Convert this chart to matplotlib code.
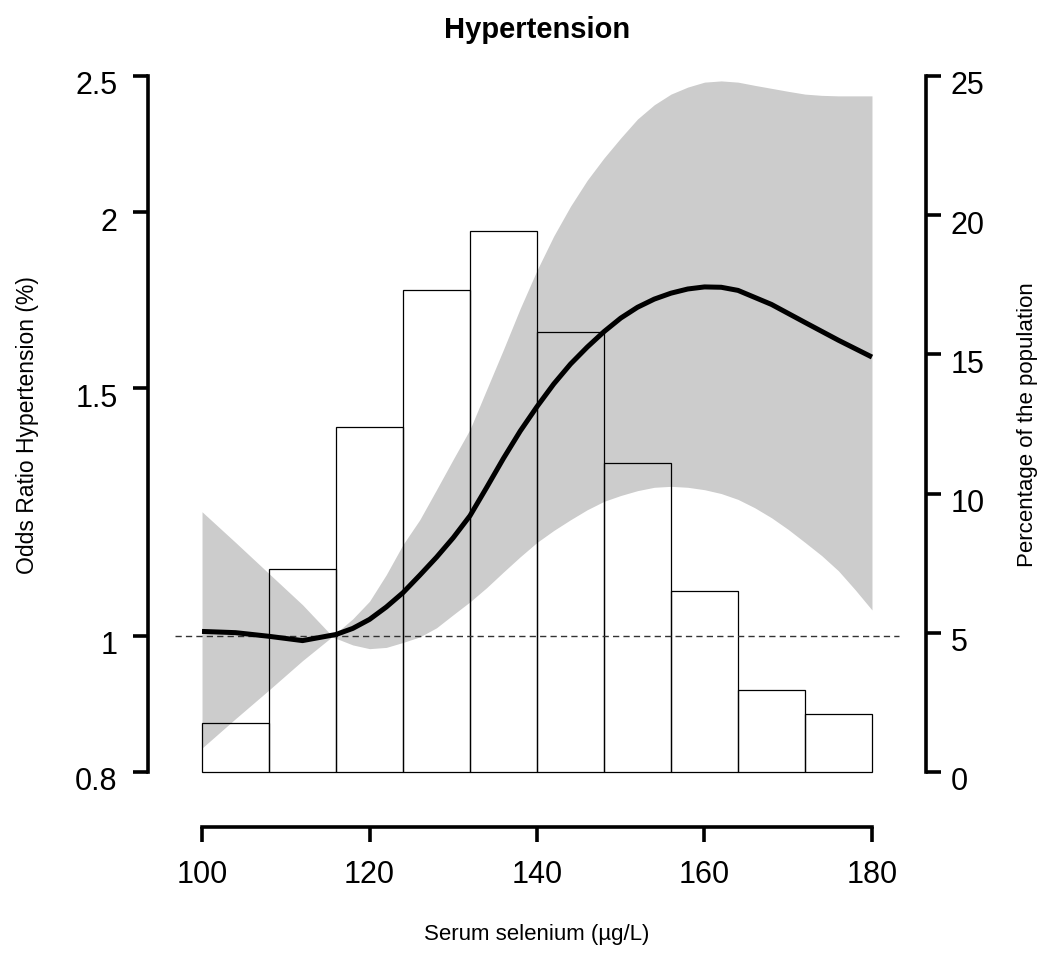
import matplotlib
matplotlib.use("Agg")
import matplotlib.pyplot as plt
from matplotlib.ticker import NullLocator, FixedLocator, FixedFormatter
from matplotlib.transforms import ScaledTranslation

plt.rcParams['font.family'] = ['Liberation Sans', 'DejaVu Sans']

# histogram of serum selenium (percentage of the population per 8 ug/L bin)
bin_left = [100, 108, 116, 124, 132, 140, 148, 156, 164, 172]
bin_width = 8
pct = [1.75, 7.3, 12.4, 17.3, 19.45, 15.8, 11.1, 6.5, 2.95, 2.1]

# fitted odds ratio
fit_x = [100, 104, 108, 112, 116, 118, 120, 122, 124, 126, 128, 130, 132, 134,
         136, 138, 140, 142, 144, 146, 148, 150, 152, 154, 156, 158, 160, 162,
         164, 168, 172, 176, 180]
or_fit = [1.007, 1.005, 0.999, 0.992, 1.002, 1.012, 1.027, 1.048, 1.073, 1.104,
          1.137, 1.174, 1.217, 1.275, 1.337, 1.398, 1.455, 1.51, 1.56, 1.604,
          1.645, 1.682, 1.712, 1.735, 1.752, 1.764, 1.77, 1.769, 1.76, 1.72,
          1.67, 1.622, 1.578]

# confidence band
band_x = [100, 104, 108, 112, 115.5, 116.5, 118, 120, 122, 124, 126, 128, 130,
          132, 134, 136, 138, 140, 142, 144, 146, 148, 150, 152, 154, 156, 158,
          160, 162, 164, 166, 168, 170, 172, 174, 176, 178, 180]
ci_hi = [1.225, 1.165, 1.107, 1.052, 1.0, 1.01, 1.028, 1.058, 1.105, 1.161,
         1.209, 1.27, 1.335, 1.402, 1.497, 1.598, 1.709, 1.819, 1.924, 2.02,
         2.108, 2.186, 2.259, 2.33, 2.385, 2.427, 2.455, 2.475, 2.48, 2.475,
         2.462, 2.45, 2.438, 2.427, 2.422, 2.42, 2.42, 2.42]
ci_lo = [0.832, 0.873, 0.915, 0.96, 0.998, 0.993, 0.985, 0.979, 0.981, 0.989,
         0.998, 1.013, 1.035, 1.057, 1.082, 1.11, 1.138, 1.165, 1.188, 1.209,
         1.229, 1.246, 1.258, 1.268, 1.275, 1.277, 1.275, 1.27, 1.262, 1.25,
         1.233, 1.213, 1.19, 1.165, 1.14, 1.112, 1.078, 1.043]

or_ticks = [0.8, 1, 1.5, 2, 2.5]
or_labels = ['0.8', '1', '1.5', '2', '2.5']
pct_ticks = [0, 5, 10, 15, 20, 25]
x_ticks = [100, 120, 140, 160, 180]

fig = plt.figure(figsize=(10.5, 9.54), dpi=100)
W, H = 1050.0, 954.0
ax = fig.add_axes([148 / W, (H - 773) / H, (926 - 148) / W, (773 - 77) / H])
axp = ax.twinx()
axc = ax.twinx()

xlim = (93.55, 186.45)
for a in (ax, axp, axc):
    a.set_xlim(*xlim)
    a.patch.set_visible(False)

# band (bottom layer)
ax.set_yscale('log')
ax.set_ylim(0.8, 2.5)
ax.fill_between(band_x, ci_lo, ci_hi, color='#cccccc', linewidth=0)

# bars
axp.set_ylim(0, 25)
axp.bar(bin_left, pct, width=bin_width, align='edge', fill=False,
        edgecolor='black', linewidth=0.9, clip_on=False)

# curve + reference line (top layer)
axc.set_yscale('log')
axc.set_ylim(0.8, 2.5)
axc.hlines(1, 96.8, 183.2, colors='#333333', linewidth=1.0,
           linestyles=(0, (4.5, 3)))
axc.plot(fit_x, or_fit, color='black', linewidth=3.6, solid_capstyle='butt')
axc.axis('off')

lw = 2.6
# left axis
for s in ('top', 'right'):
    ax.spines[s].set_visible(False)
ax.spines['left'].set_linewidth(lw)
ax.spines['left'].set_bounds(0.8, 2.5)
ax.spines['bottom'].set_linewidth(lw)
ax.spines['bottom'].set_bounds(100, 180)
ax.spines['bottom'].set_position(('outward', 39.6))
ax.yaxis.set_major_locator(FixedLocator(or_ticks))
ax.yaxis.set_major_formatter(FixedFormatter(or_labels))
ax.yaxis.set_minor_locator(NullLocator())
ax.set_xticks(x_ticks)
ax.tick_params(axis='y', which='major', direction='out', length=11, width=lw,
               labelsize=22, pad=11)
ax.tick_params(axis='x', direction='out', length=11, width=lw,
               labelsize=22, pad=12)

# right axis
for s in ('top', 'left', 'bottom'):
    axp.spines[s].set_visible(False)
axp.spines['right'].set_linewidth(lw)
axp.spines['right'].set_bounds(0, 25)
axp.set_yticks(pct_ticks)
axp.tick_params(axis='y', direction='out', length=11, width=lw,
                labelsize=22, pad=7)
axp.tick_params(axis='x', bottom=False, labelbottom=False)

# R-style labels sit a bit below the tick
shift = ScaledTranslation(0, -6 / 100.0, fig.dpi_scale_trans)
for lab in ax.get_yticklabels() + axp.get_yticklabels():
    lab.set_transform(lab.get_transform() + shift)

fig.text(537 / W, 1 - 38 / H, 'Hypertension', ha='center', va='baseline',
         fontsize=21, fontweight='bold')
fig.text(28 / W, 1 - 425 / H, 'Odds Ratio Hypertension (%)', rotation=90,
         ha='center', va='center', fontsize=16.5)
fig.text(1028 / W, 1 - 425 / H, 'Percentage of the population', rotation=90,
         ha='center', va='center', fontsize=16)
fig.text(537 / W, 1 - 935 / H, 'Serum selenium (\u00b5g/L)', ha='center',
         va='center', fontsize=16)

fig.savefig('out.png', dpi=100)
